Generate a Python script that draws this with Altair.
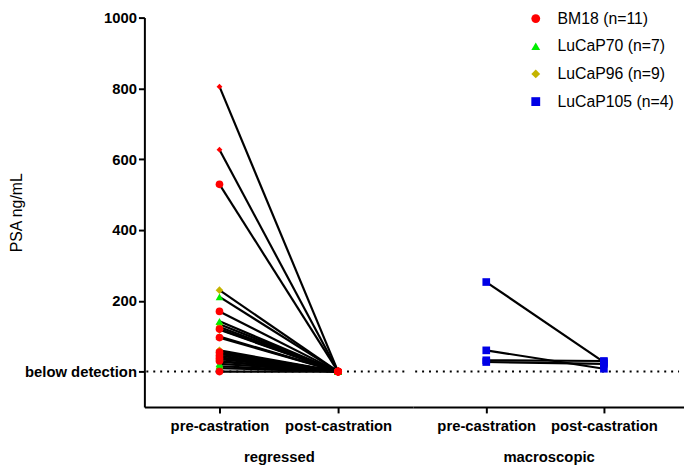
import altair as alt
import pandas as pd

# ---- data ----
models = ["BM18", "LuCaP70", "LuCaP96", "LuCaP105"]
model_colors = ["#ff0000", "#00ee00", "#c4b400", "#0000e6"]
model_shapes = ["circle", "triangle-up", "diamond", "square"]

phases = ["pre-castration", "post-castration"]
groups = ["regressed", "macroscopic"]

# regressed tumours: pre-castration PSA, post-castration PSA (ng/mL)
bm18_pre = [805, 627, 529, 170, 120, 96, 55, 45, 38, 30, 0]
bm18_post = [0, 0, 0, 0, 0, 0, 0, 0, 0, 0, 0]
lucap70_pre = [211, 142, 99, 55, 40, 22, 15]
lucap70_post = [0, 0, 0, 0, 0, 0, 0]
lucap96_pre = [230, 134, 126, 118, 60, 50, 35, 28, 10]
lucap96_post = [0, 0, 0, 0, 0, 0, 0, 0, 0]
# macroscopic tumours
lucap105_pre = [253, 60, 32, 27]
lucap105_post = [27, 8, 30, 22]
detection_limit = [0]

series = [
    ("regressed", "LuCaP96", lucap96_pre, lucap96_post),
    ("regressed", "LuCaP70", lucap70_pre, lucap70_post),
    ("regressed", "BM18", bm18_pre, bm18_post),
    ("macroscopic", "LuCaP105", lucap105_pre, lucap105_post),
]

rows = []
for grp, model, pre, post in series:
    for i, (a, b) in enumerate(zip(pre, post)):
        sid = f"{model}-{i}"
        rows.append({"group": grp, "model": model, "id": sid, "phase": phases[0], "psa": a})
        rows.append({"group": grp, "model": model, "id": sid, "phase": phases[1], "psa": b})
df = pd.DataFrame(rows)
limit_df = pd.DataFrame({"psa": detection_limit})

counts = {m: 0 for m in models}
for grp, model, pre, post in series:
    counts[model] += len(pre)
label_expr = " : ".join(
    [f"datum.label == '{m}' ? '{m} (n={counts[m]})'" for m in models]
) + " : datum.label"

FONT = "Liberation Sans"

ydomain = [-100, 1000]
HEIGHT = 394


def make_yaxis():
    return alt.Axis(
        values=[0, 200, 400, 600, 800, 1000],
        format="d",
        labelExpr="datum.value == 0 ? 'below detection' : datum.label",
        title="PSA ng/mL",
        titleFontWeight="normal",
        titleFontSize=16,
        titlePadding=0,
        labelFontWeight="bold",
        labelFontSize=15,
        labelPadding=2,
        tickSize=6,
        tickWidth=2,
        domainWidth=2,
        grid=False,
    )


def panel(group, width, padding, align, show_y):
    base = alt.Chart(df).transform_filter(alt.datum.group == group)
    x = alt.X(
        "phase:N",
        sort=phases,
        scale=alt.Scale(type="point", padding=padding, align=align),
        axis=alt.Axis(
            title=group,
            labelAngle=0,
            labelFontWeight="bold",
            labelFontSize=15,
            labelPadding=6,
            titleFontWeight="bold",
            titleFontSize=15,
            titlePadding=16,
            tickSize=6,
            tickWidth=2,
            domainWidth=2,
            grid=False,
        ),
    )
    y = alt.Y(
        "psa:Q",
        scale=alt.Scale(domain=ydomain, nice=False, zero=False),
        axis=make_yaxis() if show_y else None,
    )
    limit = alt.Chart(limit_df).mark_rule(
        color="black", strokeWidth=2, strokeDash=[2, 5]
    ).encode(
        y=y,
        x=alt.value(2),
        x2=alt.value(width - 5),
    )
    lines = base.mark_line(color="black", strokeWidth=2.2).encode(
        x=x, y=y, detail="id:N"
    )
    pts = base.transform_filter(
        "!(datum.model == 'BM18' && datum.psa > 600)"
    ).mark_point(filled=True, opacity=1, size=60).encode(
        x=x,
        y=y,
        color=alt.Color(
            "model:N",
            scale=alt.Scale(domain=models, range=model_colors),
            legend=alt.Legend(title=None, labelExpr=label_expr),
        ),
        shape=alt.Shape(
            "model:N",
            scale=alt.Scale(domain=models, range=model_shapes),
            legend=alt.Legend(title=None, labelExpr=label_expr),
        ),
    )
    small = base.transform_filter(
        "datum.model == 'BM18' && datum.psa > 600"
    ).mark_point(filled=True, opacity=1, size=35, shape="diamond", color="#ff0000").encode(
        x=x, y=y
    )
    return alt.layer(limit, lines, pts, small).properties(width=width, height=HEIGHT)


p1 = panel("regressed", 272, 0.633, 0.5, True)
p2 = panel("macroscopic", 274, 0.651, 0.477, False)

chart = (
    alt.hconcat(p1, p2, spacing=0)
    .properties(padding={"left": 0, "top": 0, "right": 0, "bottom": 0})
    .configure_view(stroke=None)
    .configure_axis(
        labelFont=FONT, titleFont=FONT, labelColor="black", titleColor="black",
        domainColor="black", tickColor="black",
    )
    .configure_legend(
        orient="none",
        legendX=388,
        legendY=-7,
        labelFont=FONT,
        labelFontSize=16,
        labelColor="black",
        symbolSize=80,
        rowPadding=12,
        labelOffset=14,
        padding=0,
    )
)

chart.save("out.html", embed_options={"renderer": "svg", "actions": False})
